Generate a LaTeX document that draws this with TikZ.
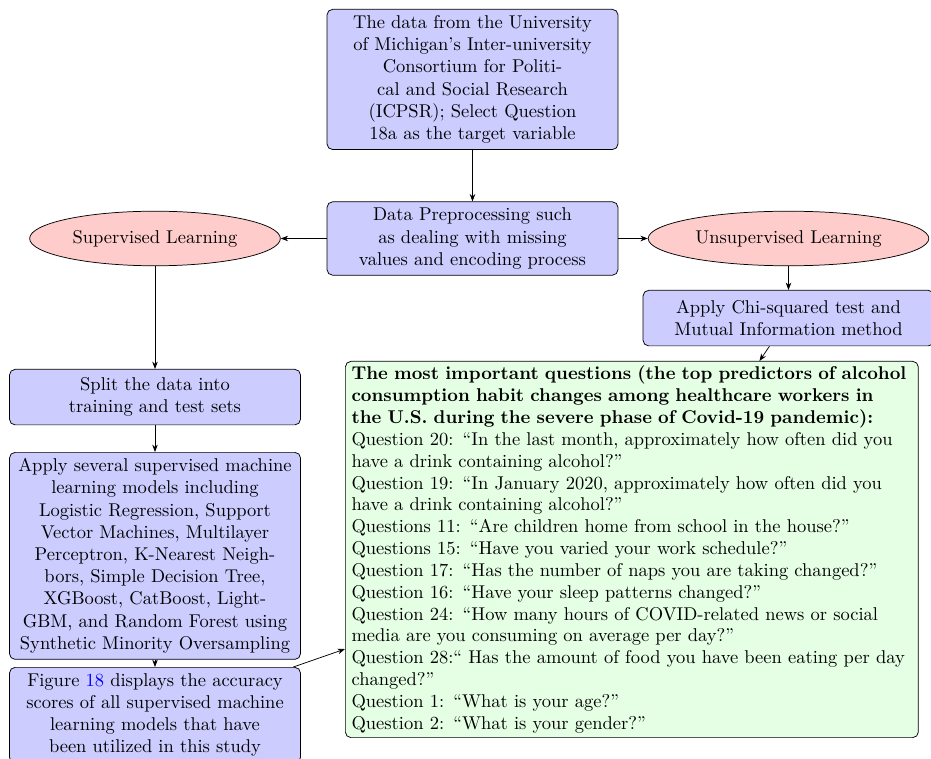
\documentclass[tikz,border=0pt]{standalone}
\usetikzlibrary{shapes.geometric,arrows.meta}
\begin{document}
\begin{tikzpicture}[x=0.5405pt,y=-0.5405pt,
  box/.style={draw, rounded corners=3pt, fill=blue!20, text width=150.6pt, align=center, inner sep=3.33pt},
  ell/.style={draw, ellipse, fill=red!20, minimum height=29.5pt, inner sep=3.33pt},
  gbox/.style={draw, rounded corners=3pt, fill=green!10, text width=303pt, align=left, inner xsep=3.33pt, inner ysep=2.5pt, font=\fontsize{10}{11.8}\selectfont},
  arr/.style={-{Stealth[length=4pt,width=3pt]}}]
\useasboundingbox (0,0) rectangle (931,759);
\node[box, anchor=north] (top) at (472.5,9) {The data from the University\\ of Michigan’s Inter-university\\ Consortium for Politi-\\ cal and Social Research\\ (ICPSR); Select Question\\ 18a as the target variable};
\node[box] (pre) at (472.5,238.5) {Data Preprocessing such\\ as dealing with missing\\ values and encoding process};
\node[ell] (sup) at (155,238.5) {Supervised Learning};
\node[ell] (uns) at (788.5,238.5) {Unsupervised Learning};
\node[box, anchor=north, minimum height=30pt] (chi) at (788.5,290) {Apply Chi-squared test and\\ Mutual Information method};
\node[box, anchor=north, minimum height=30pt] (split) at (155,369) {Split the data into\\ training and test sets};
\node[box, anchor=north, minimum height=111pt] (apply) at (155,452) {Apply several supervised machine\\ learning models including\\ Logistic Regression, Support\\ Vector Machines, Multilayer\\ Perceptron, K-Nearest Neigh-\\ bors, Simple Decision Tree,\\ XGBoost, CatBoost, Light-\\ GBM, and Random Forest using\\ Synthetic Minority Oversampling};
\node[box, anchor=north] (fig) at (155,667) {Figure \textcolor{blue}{18} displays the accuracy\\ scores of all supervised machine\\ learning models that have\\ been utilized in this study};
\node[gbox, anchor=north west] (green) at (345,361) {\textbf{The most important questions (the top predictors of alcohol}\\
\textbf{consumption habit changes among healthcare workers in}\\
\textbf{the U.S. during the severe phase of Covid-19 pandemic):}\\
Question 20: “In the last month, approximately how often did you\\
have a drink containing alcohol?”\\
Question 19: “In January 2020, approximately how often did you\\
have a drink containing alcohol?”\\
Questions 11: “Are children home from school in the house?”\\
Questions 15: “Have you varied your work schedule?”\\
Question 17: “Has the number of naps you are taking changed?”\\
Question 16: “Have your sleep patterns changed?”\\
Question 24: “How many hours of COVID-related news or social\\
media are you consuming on average per day?”\\
Question 28:“ Has the amount of food you have been eating per day\\
changed?”\\
Question 1: “What is your age?”\\
Question 2: “What is your gender?”};
\draw[arr] (top) -- (pre);
\draw[arr] (pre) -- (sup);
\draw[arr] (pre) -- (uns);
\draw[arr] (uns) -- (chi);
\draw[arr] (chi) -- (green);
\draw[arr] (sup) -- (split);
\draw[arr] (split) -- (apply);
\draw[arr] (apply) -- (fig);
\draw[arr] (fig) -- (green);
\end{tikzpicture}
\end{document}
